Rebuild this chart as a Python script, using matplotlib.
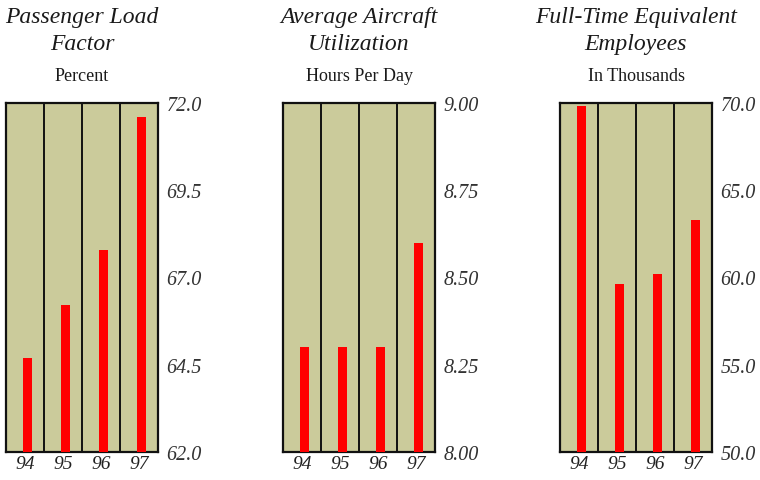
import matplotlib.pyplot as plt
import numpy as np

# Yearly operating stats, 1994-1997
years = ['94', '95', '96', '97']
load_factor = [64.7, 66.2, 67.8, 71.6]
utilization = [8.30, 8.30, 8.30, 8.60]
employees = [69.8, 59.6, 60.2, 63.3]

load_ticks = [62.0, 64.5, 67.0, 69.5, 72.0]
util_ticks = [8.00, 8.25, 8.50, 8.75, 9.00]
emp_ticks = [50.0, 55.0, 60.0, 65.0, 70.0]

panels = [
    (load_factor, load_ticks, '%.1f', ['Passenger Load', 'Factor'], 'Percent'),
    (utilization, util_ticks, '%.2f', ['Average Aircraft', 'Utilization'], 'Hours Per Day'),
    (employees, emp_ticks, '%.1f', ['Full-Time Equivalent', 'Employees'], 'In Thousands'),
]

plt.rcParams['font.family'] = ['Liberation Serif', 'DejaVu Serif']

fig = plt.figure(figsize=(7.6, 4.81), dpi=100)
fig.patch.set_facecolor('white')

lefts = [6 / 760, 283 / 760, 560 / 760]
W, H = 152 / 760, 349 / 481
bottom = 28 / 481
bg = '#cbcb9b'

for left, (vals, ticks, fmt, title, sub) in zip(lefts, panels):
    ax = fig.add_axes([left, bottom, W, H])
    ax.set_facecolor(bg)
    lo, hi = ticks[0], ticks[-1]
    x = np.arange(len(years))
    ax.bar(x + 0.56, np.array(vals) - lo, bottom=lo, width=0.24,
           color='#ff0000', zorder=3)
    for xv in range(1, len(years)):
        ax.axvline(xv, color='#111111', lw=1.4, zorder=2)
    ax.set_xlim(0, len(years))
    ax.set_ylim(lo, hi)
    for s in ax.spines.values():
        s.set_linewidth(1.6)
        s.set_color('#111111')
    ax.yaxis.tick_right()
    ax.set_yticks(ticks)
    ax.set_yticklabels([fmt % t for t in ticks], fontsize=14.5, style='italic',
                       color='#333333')
    ax.set_xticks(x + 0.5)
    ax.set_xticklabels(years, fontsize=14, style='italic', color='#222222')
    ax.tick_params(length=0, pad=6)
    ax.tick_params(axis='x', pad=2)

    cx = left + W / 2
    fig.text(cx, 1 - 17 / 481, title[0], ha='center', va='center',
             fontsize=17, style='italic', color='#1a1a1a')
    fig.text(cx, 1 - 45 / 481, title[1], ha='center', va='center',
             fontsize=17, style='italic', color='#1a1a1a')
    fig.text(cx, 1 - 77 / 481, sub, ha='center', va='center',
             fontsize=13, color='#1a1a1a')

fig.savefig('out.png', dpi=100)
